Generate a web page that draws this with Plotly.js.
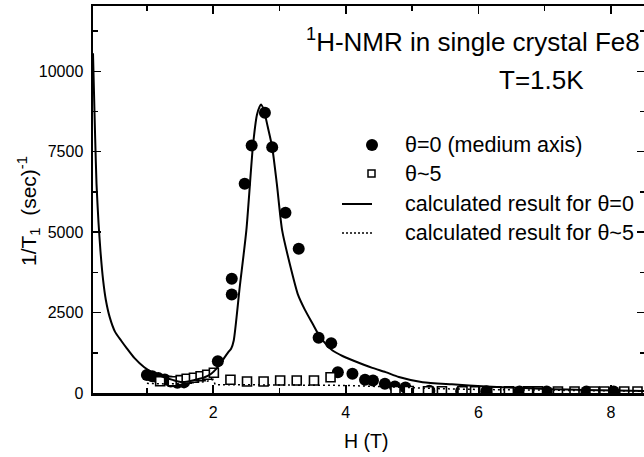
<!DOCTYPE html>
<html>
<head>
<meta charset="utf-8">
<script src="https://cdn.plot.ly/plotly-3.0.1.min.js"></script>
<style>
  html, body { margin: 0; padding: 0; background: #fff; overflow: hidden; }
  #plot { width: 648px; height: 457px; }
</style>
</head>
<body>
<div id="plot"></div>
<script>
// 1/T1 versus field H for theta = 0 (medium axis)
const theta0H = [1.00, 1.08, 1.17, 1.27, 1.36, 1.46, 1.56, 2.07, 2.28, 2.28, 2.475, 2.58, 2.78, 2.89, 3.09, 3.29,
                 3.59, 3.78, 3.88, 4.10, 4.29, 4.41, 4.59, 4.74, 4.90, 5.26, 5.74, 6.12, 6.62, 7.03, 7.63, 8.04];
const theta0R = [560, 520, 470, 420, 360, 320, 330, 990, 3063, 3551, 6505, 7696, 8715, 7643, 5603, 4484,
                 1716, 1549, 647, 597, 410, 389, 286, 200, 170, 70, 60, 55, 50, 45, 45, 50];

// 1/T1 versus field H for theta ~ 5
const theta5H = [1.20, 1.39, 1.51, 1.60, 1.71, 1.81, 1.91, 2.01, 2.26, 2.51, 2.76, 3.01, 3.26, 3.52, 3.77,
                 4.75, 4.95, 5.24, 5.45, 5.76, 5.95, 6.27, 6.46, 6.75, 6.90, 7.20, 7.45, 7.75, 7.90, 8.20, 8.40];
const theta5R = [367, 367, 400, 441, 472, 522, 566, 628, 410, 358, 358, 389, 389, 389, 491,
                 60, 60, 55, 55, 55, 55, 50, 50, 50, 50, 45, 45, 45, 45, 45, 45];

// calculated result for theta = 0
const calc0H = [0.187, 0.20, 0.22, 0.24, 0.27, 0.30, 0.34, 0.38, 0.44, 0.52, 0.61, 0.70, 0.81, 0.96, 1.10, 1.26,
                1.40, 1.51, 1.62, 1.75, 1.87, 1.97, 2.05, 2.12, 2.18, 2.24, 2.27, 2.31, 2.40, 2.50, 2.60, 2.66,
                2.70, 2.72, 2.76, 2.82, 2.89, 2.96, 3.04, 3.18, 3.28, 3.38, 3.50, 3.60, 3.70, 3.80, 3.95, 4.11,
                4.40, 4.60, 4.80, 5.16, 5.60, 6.12, 6.60, 7.10, 7.60, 8.10, 8.52];
const calc0R = [10560, 9500, 7900, 6500, 5300, 4400, 3500, 2900, 2350, 1900, 1632, 1380, 1090, 800, 620, 491,
                400, 345, 360, 420, 491, 600, 760, 950, 1130, 1300, 1374, 1632, 3290, 5053, 7696, 8650,
                8900, 8970, 8820, 8300, 7640, 6500, 5053, 3809, 3050, 2600, 2150, 1780, 1520, 1320, 1150, 1010,
                780, 650, 500, 336, 270, 202, 160, 120, 95, 75, 60];

// calculated result for theta ~ 5
const calc5H = [1.00, 1.30, 1.60, 1.90, 2.00, 2.03, 2.50, 3.00, 3.50, 4.00, 4.50, 5.00, 5.50, 6.00, 7.00, 8.00, 8.52];
const calc5R = [300, 280, 300, 360, 420, 260, 255, 255, 250, 235, 200, 160, 130, 110, 80, 60, 55];

const xTickVals = [2, 4, 6, 8];
const yTickVals = [0, 2500, 5000, 7500, 10000];

const FONT = 'Liberation Sans, Arial, Helvetica, sans-serif';

// plot-area geometry in pixels, used to place the free text and legend keys
const W = 648, H = 457, L = 93, R = 3, T = 6, B = 64;
const pw = W - L - R, ph = H - T - B;
const px = x => (x - L) / pw;
const py = y => (H - B - y) / ph;

const traces = [
  {
    x: theta0H, y: theta0R, mode: 'markers', type: 'scatter',
    marker: { symbol: 'circle', size: 12, color: '#000' },
    showlegend: false
  },
  {
    x: theta5H, y: theta5R, mode: 'markers', type: 'scatter',
    marker: { symbol: 'square', size: 9, color: '#fff', line: { color: '#000', width: 1.6 } },
    showlegend: false
  },
  {
    x: calc0H, y: calc0R, mode: 'lines', type: 'scatter',
    line: { color: '#000', width: 2, shape: 'spline', smoothing: 0.6 },
    showlegend: false
  },
  {
    x: calc5H, y: calc5R, mode: 'lines', type: 'scatter',
    line: { color: '#000', width: 1.5, dash: '2px,3px' },
    showlegend: false
  }
];

const axisCommon = {
  showgrid: false, zeroline: false,
  showline: true, linecolor: '#000', linewidth: 2.5,
  mirror: 'allticks', ticks: 'inside', ticklen: 8, tickwidth: 1.5, tickcolor: '#000',
  tickfont: { family: FONT, size: 16, color: '#000' }
};

const layout = {
  width: W, height: H,
  margin: { l: L, r: R, t: T, b: B, pad: 0 },
  paper_bgcolor: '#fff', plot_bgcolor: '#fff',
  showlegend: false,
  xaxis: Object.assign({}, axisCommon, {
    range: [0.187, 8.513],
    tickvals: xTickVals, ticktext: xTickVals.map(String),
    ticklabelstandoff: 3,
    minor: { dtick: 1, tick0: 0, ticks: 'inside', ticklen: 5, tickwidth: 1.5, tickcolor: '#000' }
  }),
  yaxis: Object.assign({}, axisCommon, {
    range: [0, 12030],
    tickvals: yTickVals, ticktext: yTickVals.map(String),
    ticklabelstandoff: 4,
    minor: { dtick: 1250, tick0: 0, ticks: 'inside', ticklen: 5, tickwidth: 1.5, tickcolor: '#000' }
  }),
  annotations: [
    { text: '<sup>1</sup>H-NMR in single crystal Fe8', xref: 'paper', yref: 'paper',
      x: px(642), y: py(41), xanchor: 'right', yanchor: 'middle', showarrow: false,
      font: { family: FONT, size: 26, color: '#000' } },
    { text: 'T=1.5K', xref: 'paper', yref: 'paper',
      x: px(541), y: py(80), xanchor: 'center', yanchor: 'middle', showarrow: false,
      font: { family: FONT, size: 26, color: '#000' } },
    { text: 'θ=0 (medium axis)', xref: 'paper', yref: 'paper',
      x: px(403), y: py(145), xanchor: 'left', yanchor: 'middle', showarrow: false,
      font: { family: FONT, size: 21.5, color: '#000' } },
    { text: 'θ~5', xref: 'paper', yref: 'paper',
      x: px(403), y: py(174), xanchor: 'left', yanchor: 'middle', showarrow: false,
      font: { family: FONT, size: 21.5, color: '#000' } },
    { text: 'calculated result for θ=0', xref: 'paper', yref: 'paper',
      x: px(403), y: py(204), xanchor: 'left', yanchor: 'middle', showarrow: false,
      font: { family: FONT, size: 21.5, color: '#000' } },
    { text: 'calculated result for θ~5', xref: 'paper', yref: 'paper',
      x: px(403), y: py(233), xanchor: 'left', yanchor: 'middle', showarrow: false,
      font: { family: FONT, size: 21.5, color: '#000' } },
    { text: 'H (T)', xref: 'paper', yref: 'paper',
      x: px(366), y: py(441), xanchor: 'center', yanchor: 'middle', showarrow: false,
      font: { family: FONT, size: 19.5, color: '#000' } },
    { text: '1/T<sub>1</sub>  (sec)<sup>-1</sup>', xref: 'paper', yref: 'paper', textangle: -90,
      x: px(28), y: py(211), xanchor: 'center', yanchor: 'middle', showarrow: false,
      font: { family: FONT, size: 21, color: '#000' } }
  ],
  shapes: [
    // legend keys
    { type: 'circle', xref: 'paper', yref: 'paper', x0: px(366), x1: px(378), y0: py(151), y1: py(139),
      fillcolor: '#000', line: { color: '#000', width: 0 } },
    { type: 'rect', xref: 'paper', yref: 'paper', x0: px(368), x1: px(375), y0: py(177), y1: py(170),
      fillcolor: '#fff', line: { color: '#000', width: 1.5 } },
    { type: 'line', xref: 'paper', yref: 'paper', x0: px(342), x1: px(372), y0: py(204), y1: py(204),
      line: { color: '#000', width: 2 } },
    { type: 'line', xref: 'paper', yref: 'paper', x0: px(342), x1: px(372), y0: py(233), y1: py(233),
      line: { color: '#000', width: 1.3, dash: '2px,2px' } }
  ]
};

Plotly.newPlot('plot', traces, layout, { staticPlot: true, displayModeBar: false });
</script>
</body>
</html>
